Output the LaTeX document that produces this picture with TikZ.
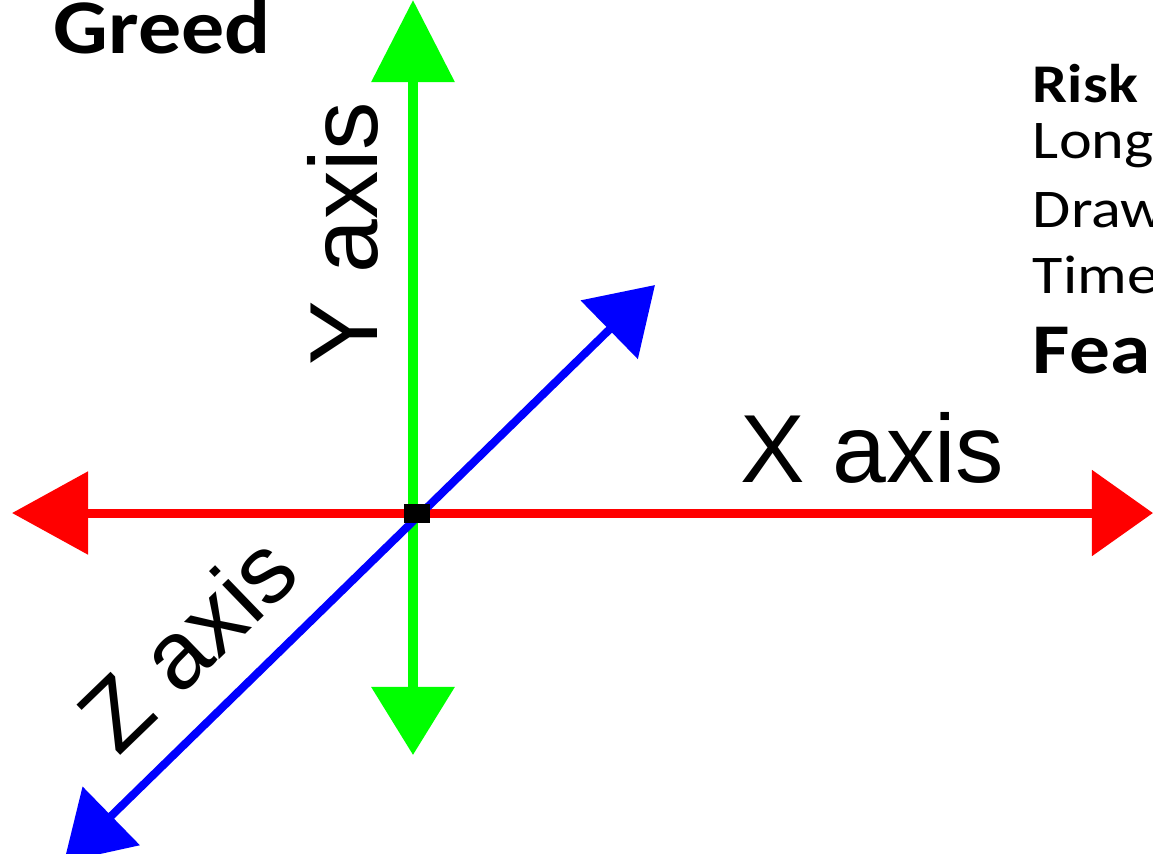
\documentclass[tikz,border=0pt]{standalone}
\usepackage{fontspec}
\setmainfont{Carlito}
\newfontfamily\arialfont{Liberation Sans}
\usetikzlibrary{arrows.meta}
\begin{document}
\begin{tikzpicture}[
  x=0.01cm, y=-0.01cm,
  every node/.style={inner sep=0pt, outer sep=0pt},
  axis/.style={line width=0.09cm},
  axislabel/.style={font=\arialfont\fontsize{27.5}{30}\selectfont, anchor=base west},
  bigword/.style={font=\bfseries\fontsize{22}{26}\selectfont, anchor=base west, xscale=1.11},
  listword/.style={font=\fontsize{15.5}{18}\selectfont, anchor=base west, xscale=1.14},
  origin/.style={fill=black, minimum width=0.25cm, minimum height=0.19cm}
]
\useasboundingbox (0,0) rectangle (1153,853);
\clip (0,0) rectangle (1153,853);

% --- free ends of the three axes ---
\coordinate (xl) at (12,513);
\coordinate (xr) at (1153,513);
\coordinate (yt) at (413,0);
\coordinate (yb) at (413,755);
\coordinate (zt) at (655,285);
\coordinate (zb) at (64,862);

% --- axes ---
\draw[axis, green, line width=0.1cm, {Triangle[length=0.82cm,width=0.81cm]}-{Triangle[length=0.68cm,width=0.81cm]}] (yt) -- (yb);
\draw[axis, red, {Triangle[length=0.76cm,width=0.81cm]}-{Triangle[length=0.61cm,width=0.84cm]}] (xl) -- (xr);
\draw[axis, blue, line width=0.08cm, {Triangle[length=0.64cm,width=0.8cm]}-{Triangle[length=0.66cm,width=0.8cm]}] (zt) -- (zb);

\node[origin] (O) at (417,513) {};

% --- axis labels ---
\node[axislabel] (xlab) at (741,482) {X axis};
\node[axislabel, rotate=90] (ylab) at (377,365) {Y axis};
\node[axislabel, rotate=44] (zlab) at (118,757) {Z axis};

% --- words on the left and on the right ---
\node[bigword] (greed) at (54,53) {Greed};
\node[listword, font=\bfseries\fontsize{15.5}{18}\selectfont] (risk) at (1033,102) {Risk};
\node[listword] (long) at (1033,158) {Long};
\node[listword] (draw) at (1033,227) {Draw};
\node[listword] (time) at (1033,293) {Time};
\node[listword, font=\bfseries\fontsize{20.3}{24}\selectfont] (fea) at (1033,373) {Fea};

\end{tikzpicture}
\end{document}
